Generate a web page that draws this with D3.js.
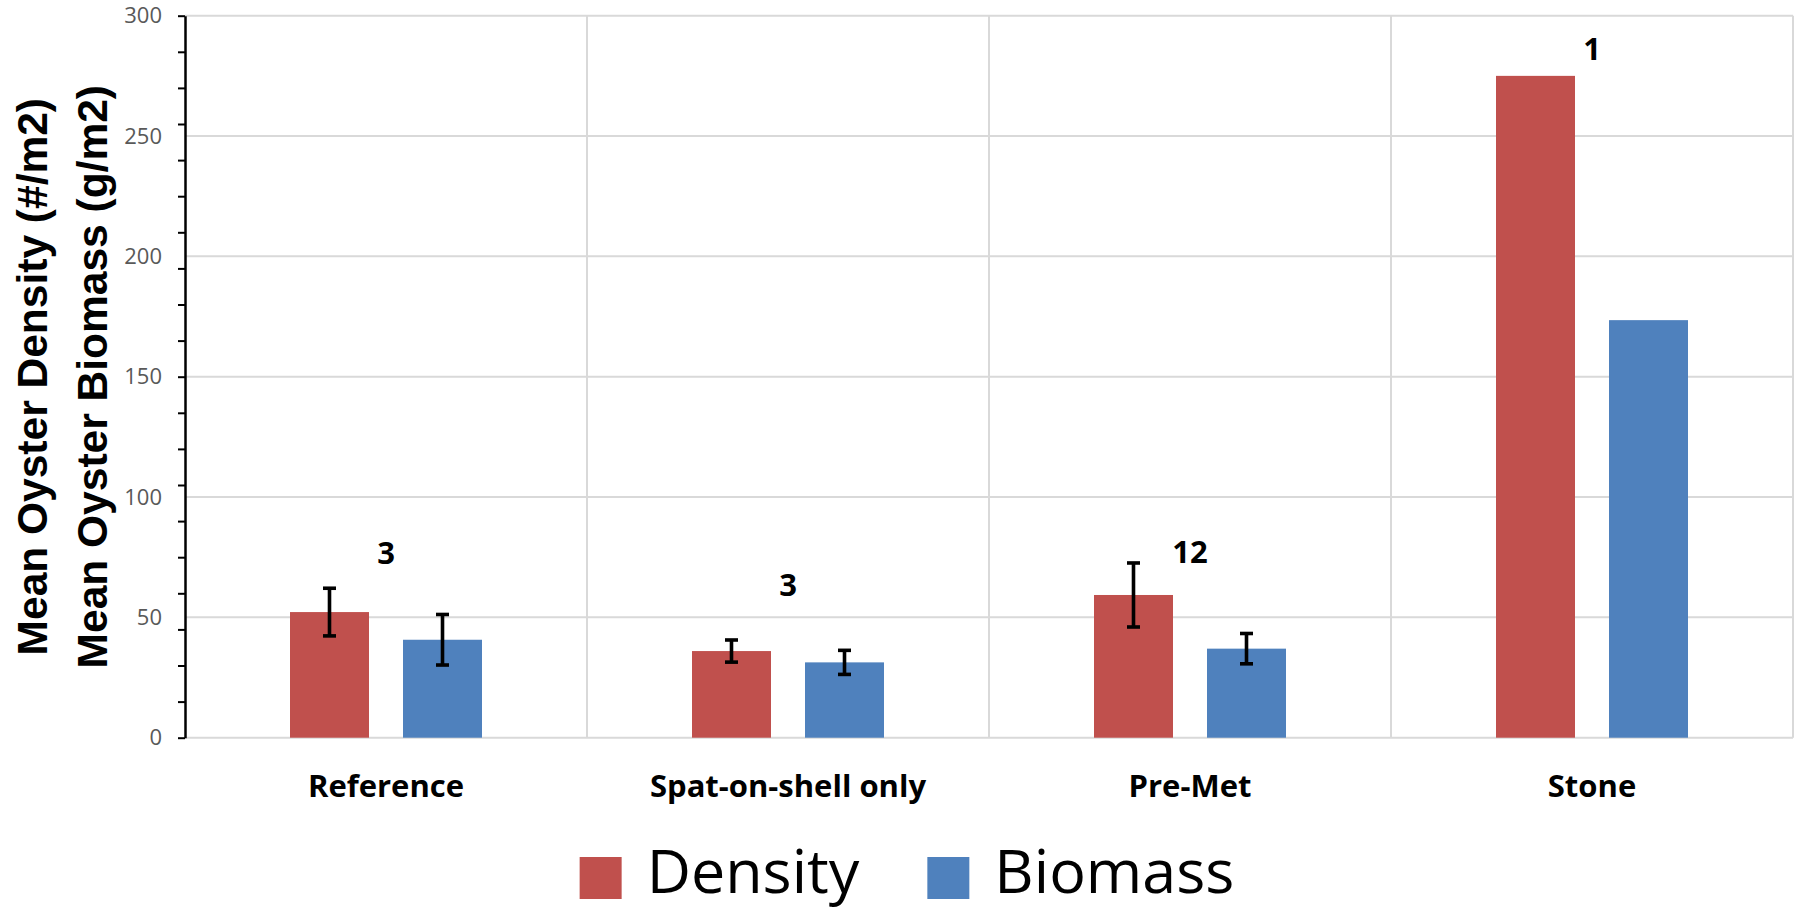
<!DOCTYPE html>
<html>
<head>
<meta charset="utf-8">
<script src="https://cdn.jsdelivr.net/npm/d3@7"></script>
<style>
  html, body { margin: 0; padding: 0; background: #fff; }
  svg { display: block; }
</style>
</head>
<body>
<svg id="chart" width="1814" height="913"></svg>
<script>
// ---- data ----
const categories = ["Reference", "Spat-on-shell only", "Pre-Met", "Stone"];
const seriesNames = ["Density", "Biomass"];
const densityValues = [52.2, 36.0, 59.3, 275.0];
const biomassValues = [40.7, 31.3, 37.0, 173.5];
const densityErrors = [9.9, 4.6, 13.3, null];
const biomassErrors = [10.5, 5.0, 6.3, null];
const sampleSizes = ["3", "3", "12", "1"];
const sampleLabelLevels = [72.0, 58.7, 72.4, 281.8];
const yTickLabels = [0, 50, 100, 150, 200, 250, 300];
const yMinorTicks = d3.range(0, 301, 15);
const yTitleLines = ["Mean Oyster Density (#/m2)", "Mean Oyster Biomass (g/m2)"];

// ---- layout ----
const W = 1814, H = 913;
const plotLeft = 185, plotRight = 1793, plotTop = 15.7, plotBottom = 737.7;
const colors = { Density: "#C0504D", Biomass: "#4F81BD" };
const valuesBySeries = { Density: densityValues, Biomass: biomassValues };
const errorsBySeries = { Density: densityErrors, Biomass: biomassErrors };

const svg = d3.select("#chart");

const y = d3.scaleLinear().domain([0, 300]).range([plotBottom, plotTop]);
const x0 = d3.scaleBand().domain(categories).range([plotLeft, plotRight]).paddingInner(0).paddingOuter(0);
const bw0 = x0.bandwidth();
const x1 = d3.scaleBand().domain(seriesNames)
  .range([bw0 * 0.2612, bw0 * 0.7388]).paddingInner(0.301).paddingOuter(0);

// horizontal gridlines
svg.append("g").selectAll("line").data(yTickLabels).join("line")
  .attr("x1", plotLeft).attr("x2", plotRight)
  .attr("y1", d => y(d)).attr("y2", d => y(d))
  .attr("stroke", "#d9d9d9").attr("stroke-width", 2);

// vertical gridlines at category boundaries
const boundaries = categories.map(c => x0(c) + bw0);
svg.append("g").selectAll("line").data(boundaries).join("line")
  .attr("x1", d => d).attr("x2", d => d)
  .attr("y1", y(300)).attr("y2", y(0))
  .attr("stroke", "#d9d9d9").attr("stroke-width", 2);

// bars
const rows = [];
categories.forEach((c, i) => {
  seriesNames.forEach(s => {
    rows.push({ cat: c, s, v: valuesBySeries[s][i], e: errorsBySeries[s][i] });
  });
});

svg.append("g").selectAll("rect").data(rows).join("rect")
  .attr("x", d => x0(d.cat) + x1(d.s))
  .attr("y", d => y(d.v))
  .attr("width", x1.bandwidth())
  .attr("height", d => y(0) - y(d.v))
  .attr("fill", d => colors[d.s]);

// error bars
const errRows = rows.filter(d => d.e != null);
const eg = svg.append("g").attr("stroke", "#000").attr("stroke-width", 3.6);
eg.selectAll("line.stem").data(errRows).join("line").attr("class", "stem")
  .attr("x1", d => x0(d.cat) + x1(d.s) + x1.bandwidth() / 2)
  .attr("x2", d => x0(d.cat) + x1(d.s) + x1.bandwidth() / 2)
  .attr("y1", d => y(d.v + d.e)).attr("y2", d => y(d.v - d.e));
["hi", "lo"].forEach(k => {
  eg.selectAll("line.cap" + k).data(errRows).join("line").attr("class", "cap" + k)
    .attr("x1", d => x0(d.cat) + x1(d.s) + x1.bandwidth() / 2 - 6.5)
    .attr("x2", d => x0(d.cat) + x1(d.s) + x1.bandwidth() / 2 + 6.5)
    .attr("y1", d => y(k === "hi" ? d.v + d.e : d.v - d.e))
    .attr("y2", d => y(k === "hi" ? d.v + d.e : d.v - d.e));
});

// sample size labels
svg.append("g").selectAll("text").data(categories).join("text")
  .attr("x", c => x0(c) + bw0 / 2)
  .attr("y", (c, i) => y(sampleLabelLevels[i]))
  .attr("text-anchor", "middle")
  .attr("font-family", "'Open Sans', sans-serif")
  .attr("font-weight", "bold")
  .attr("font-size", 31)
  .attr("fill", "#000")
  .text((c, i) => sampleSizes[i]);

// y axis with minor ticks
const yAxisG = svg.append("g").attr("transform", `translate(${plotLeft},0)`)
  .call(d3.axisLeft(y).tickValues(yMinorTicks).tickFormat("").tickSize(7).tickSizeOuter(0));
yAxisG.select(".domain").attr("stroke", "#000").attr("stroke-width", 2.5);
yAxisG.selectAll(".tick line").attr("stroke", "#000").attr("stroke-width", 2);

const yLabG = svg.append("g").attr("transform", `translate(${plotLeft},0)`)
  .call(d3.axisLeft(y).tickValues(yTickLabels).tickSize(0).tickPadding(23));
yLabG.select(".domain").remove();
yLabG.selectAll("text")
  .attr("font-family", "'Open Sans', sans-serif")
  .attr("font-size", 22)
  .attr("fill", "#595959");

// category labels
svg.append("g").selectAll("text").data(categories).join("text")
  .attr("x", c => x0(c) + bw0 / 2)
  .attr("y", 797)
  .attr("text-anchor", "middle")
  .attr("font-family", "'Open Sans', sans-serif")
  .attr("font-weight", "bold")
  .attr("font-size", 31)
  .attr("fill", "#000")
  .text(c => c);

// y axis title (two lines)
const titleBaselines = [47, 107];
svg.append("g").selectAll("text").data(yTitleLines).join("text")
  .attr("transform", (d, i) => `translate(${titleBaselines[i]},${(plotTop + plotBottom) / 2}) rotate(-90)`)
  .attr("text-anchor", "middle")
  .attr("font-family", "'Liberation Sans', Arial, sans-serif")
  .attr("font-weight", "bold")
  .attr("font-size", 42.5)
  .attr("fill", "#000")
  .text(d => d);

// legend
const legend = svg.append("g");
const sq = 42, gapSqText = 25, gapItems = 68, legendBaseline = 893;
const items = legend.selectAll("g").data(seriesNames).join("g");
items.append("rect").attr("width", sq).attr("height", sq).attr("y", 857)
  .attr("fill", d => colors[d]);
items.append("text")
  .attr("x", sq + gapSqText).attr("y", legendBaseline)
  .attr("font-family", "'Open Sans', sans-serif")
  .attr("font-size", 61)
  .attr("fill", "#000")
  .text(d => d);
const widths = [];
items.each(function () {
  widths.push(sq + gapSqText + d3.select(this).select("text").node().getComputedTextLength());
});
const totalW = d3.sum(widths) + gapItems * (widths.length - 1);
let cx = W / 2 - totalW / 2;
items.each(function (d, i) {
  d3.select(this).attr("transform", `translate(${cx},0)`);
  cx += widths[i] + gapItems;
});
</script>
</body>
</html>
